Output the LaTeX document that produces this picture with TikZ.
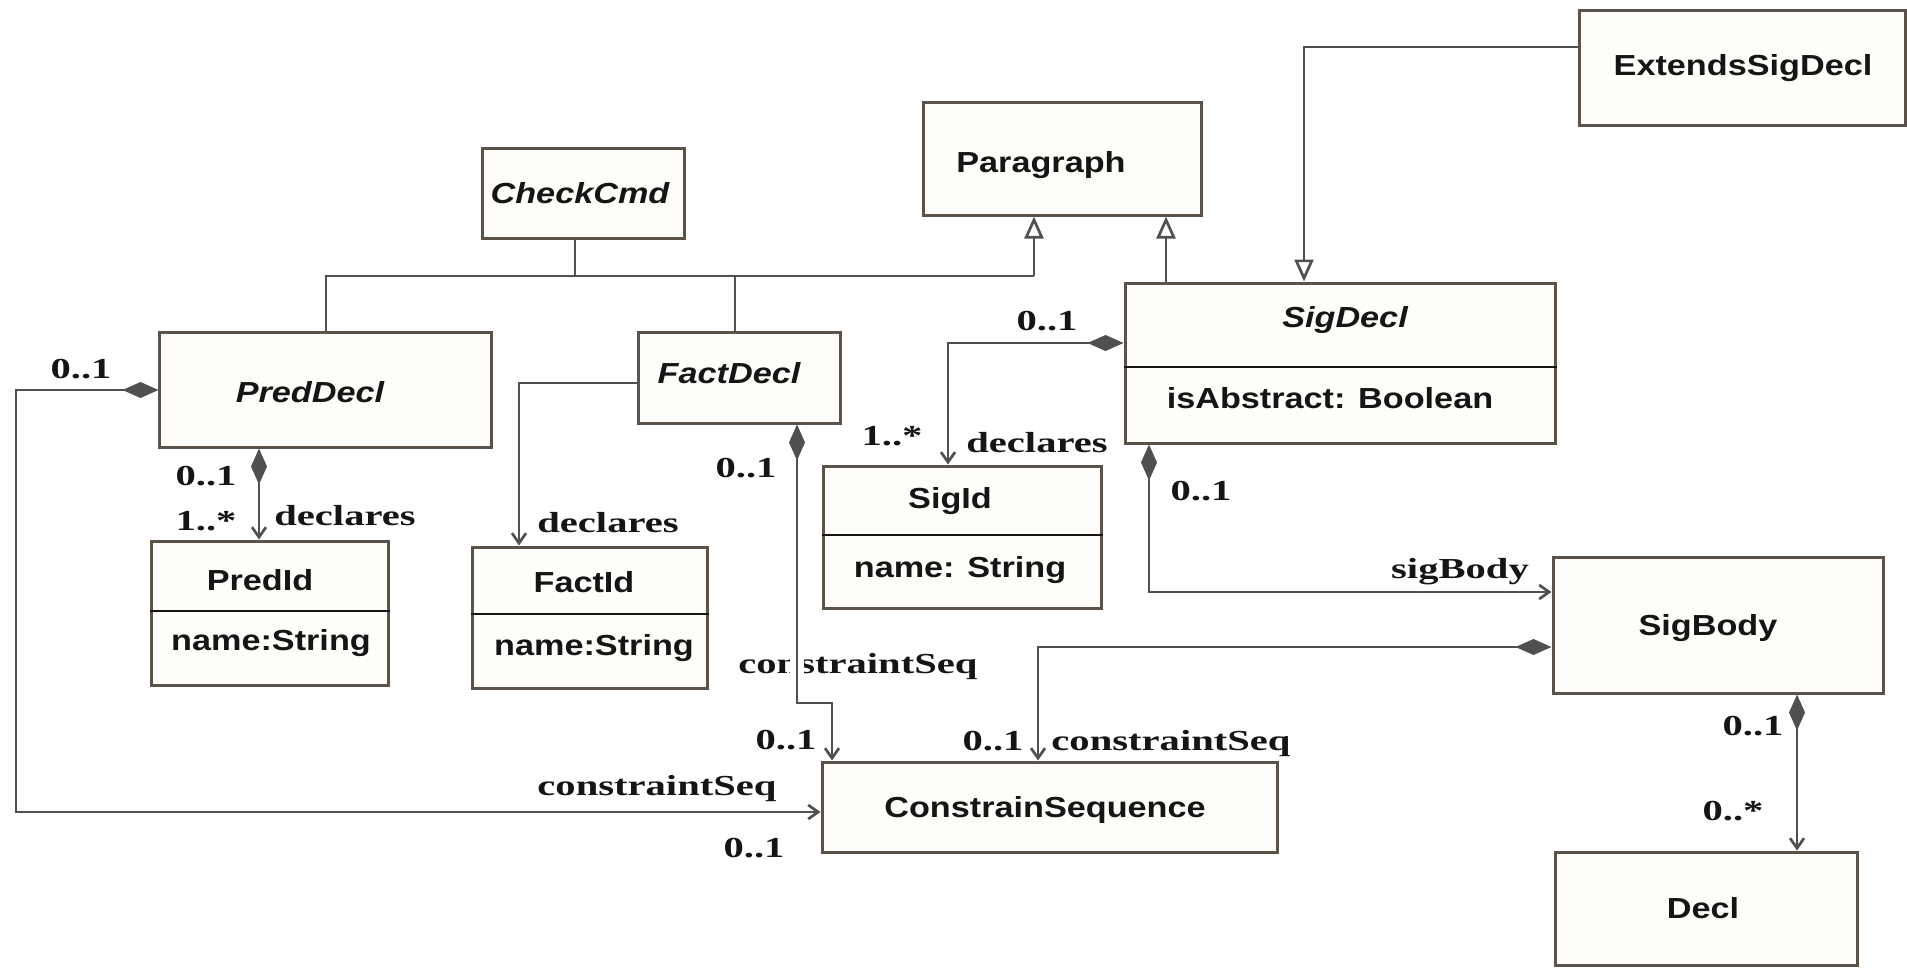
\documentclass[tikz,border=0pt]{standalone}
\usepackage{fontspec}
\setmainfont{Liberation Serif}
\newfontfamily\classfont[FakeStretch=1.18]{Liberation Sans}
\newfontfamily\rolefont[FakeStretch=1.4]{Liberation Serif}
\usetikzlibrary{arrows.meta}
\definecolor{boxline}{HTML}{5B5249}
\definecolor{wirecol}{HTML}{505050}
\definecolor{ink}{HTML}{151515}
\definecolor{paper}{HTML}{FFFDF9}

\begin{document}
\begin{tikzpicture}[x=0.5bp, y=-0.5bp,
  classbox/.style={draw=boxline, line width=1.5bp, fill=paper, inner sep=0pt, rectangle},
  divider/.style={draw=ink, line width=1bp},
  cname/.style={inner sep=0pt, anchor=base, yshift=-5bp, text=ink,
    font={\classfont\fontsize{14.5bp}{17bp}\selectfont\bfseries}},
  cabs/.style={cname, font={\classfont\fontsize{14.5bp}{17bp}\selectfont\bfseries\itshape}},
  role/.style={inner sep=0pt, anchor=base, yshift=-5bp, text=ink,
    font={\rolefont\fontsize{14.5bp}{17bp}\selectfont\bfseries}},
  wire/.style={draw=wirecol, line width=1.35bp, line join=miter},
  comp/.style={wire, {Diamond[length=18bp,width=8bp]}-{Straight Barb[length=5bp,width=7bp]}},
  assoc/.style={wire, -{Straight Barb[length=5bp,width=7bp]}},
  gen/.style={wire, -{Triangle[length=11bp,width=9.5bp,fill=white]}}]

\useasboundingbox (0,0) rectangle (1907,967);

% ---------- class boxes ----------
\node[classbox, minimum width=101bp,   minimum height=45bp]   (checkcmd)  at (583,193)    {};
\node[classbox, minimum width=139bp,   minimum height=56.5bp] (paragraph) at (1062,158.5) {};
\node[classbox, minimum width=163bp,   minimum height=57.5bp] (extends)   at (1742,67.5)  {};
\node[classbox, minimum width=165.5bp, minimum height=57.5bp] (preddecl)  at (325.5,389.5) {};
\node[classbox, minimum width=101bp,   minimum height=45.5bp] (factdecl)  at (739,377.5)  {};
\node[classbox, minimum width=215bp,   minimum height=80bp]   (sigdecl)   at (1340,363)   {};
\node[classbox, minimum width=139bp,   minimum height=71bp]   (sigid)     at (962,537)    {};
\node[classbox, minimum width=118bp,   minimum height=72bp]   (predid)    at (270,613)    {};
\node[classbox, minimum width=117.5bp, minimum height=70.5bp] (factid)    at (589.5,617.5) {};
\node[classbox, minimum width=165bp,   minimum height=68bp]   (sigbody)   at (1718,625)   {};
\node[classbox, minimum width=227.5bp, minimum height=45bp]   (constrain) at (1049.5,807) {};
\node[classbox, minimum width=151bp,   minimum height=56.5bp] (decl)      at (1706,908.5) {};

% compartment dividers
\coordinate (sigdecl-cut) at (0,367);
\coordinate (sigid-cut)   at (0,535);
\coordinate (predid-cut)  at (0,611);
\coordinate (factid-cut)  at (0,614);
\draw[divider] (sigdecl.west |- sigdecl-cut) -- (sigdecl.east |- sigdecl-cut);
\draw[divider] (sigid.west |- sigid-cut) -- (sigid.east |- sigid-cut);
\draw[divider] (predid.west |- predid-cut) -- (predid.east |- predid-cut);
\draw[divider] (factid.west |- factid-cut) -- (factid.east |- factid-cut);

% class names and attributes
\node[cabs]  (checkcmd-t)  at (580,193)  {CheckCmd};
\node[cname] (paragraph-t) at (1041,162) {Paragraph};
\node[cname] (extends-t)   at (1743,65)  {ExtendsSigDecl};
\node[cabs]  (preddecl-t)  at (310,392)  {PredDecl};
\node[cabs]  (factdecl-t)  at (729,373)  {FactDecl};
\node[cabs]  (sigdecl-t)   at (1345,317) {SigDecl};
\node[cname] (sigdecl-a)   at (1330,398) {isAbstract: Boolean};
\node[cname] (sigid-t)     at (950,498)  {SigId};
\node[cname] (sigid-a)     at (960,567)  {name: String};
\node[cname] (predid-t)    at (260,580)  {PredId};
\node[cname] (predid-a)    at (271,640)  {name:String};
\node[cname] (factid-t)    at (584,582)  {FactId};
\node[cname] (factid-a)    at (594,645)  {name:String};
\node[cname] (sigbody-t)   at (1708,625) {SigBody};
\node[cname] (constrain-t) at (1045,807) {ConstrainSequence};
\node[cname] (decl-t)      at (1703,908) {Decl};

% ---------- role names and multiplicities ----------
\node[role] (pl-m1)  at (81,368)   {0..1};
\node[role] (pb-m1)  at (206,475)  {0..1};
\node[role] (pb-m2)  at (206,520)  {1..*};
\node[role] (pb-r)   at (345,515)  {declares};
\node[role] (fl-r)   at (608,522)  {declares};
\node[role] (fb-m1)  at (746,467)  {0..1};
\node[role, anchor=base west] (fb-r) at (738,663) {constraintSeq};
\node[role] (fb-m2)  at (786,739)  {0..1};
\node[role] (pl-r)   at (657,785)  {constraintSeq};
\node[role] (pl-m2)  at (754,847)  {0..1};
\node[role] (sl-m1)  at (1047,320) {0..1};
\node[role] (sl-m2)  at (892,435)  {1..*};
\node[role] (sl-r)   at (1037,442) {declares};
\node[role] (sb-m1)  at (1201,490) {0..1};
\node[role] (sb-r)   at (1460,568) {sigBody};
\node[role] (bl-m1)  at (993,740)  {0..1};
\node[role] (bl-r)   at (1171,740) {constraintSeq};
\node[role] (bb-m1)  at (1753,725) {0..1};
\node[role] (bb-m2)  at (1733,810) {0..*};

% ---------- bend points ----------
\coordinate (jc)   at (575,276);
\coordinate (jpd)  at (326,276);
\coordinate (jfd)  at (735,276);
\coordinate (jpar) at (1034,276);
\coordinate (gx)   at (1166,250);
\coordinate (ex)   at (1304,47);
\coordinate (pl)   at (16,390);
\coordinate (pl2)  at (16,812);
\coordinate (pb)   at (259,500);
\coordinate (fl)   at (519,383);
\coordinate (fb1)  at (797,703);
\coordinate (fb2)  at (832,703);
\coordinate (sl)   at (948,343);
\coordinate (sb)   at (1149,592);
\coordinate (bl)   at (1038,647);
\coordinate (bb)   at (1797,780);

% gap in the role name where the connector crosses it
\draw[white, line width=7bp] (fb-r.north -| fb1) -- (fb-r.south -| fb1);

% ---------- generalizations ----------
\draw[wire] (checkcmd.south -| jc) -- (jc);
\draw[wire] (preddecl.north -| jpd) -- (jpd) -- (jpar);
\draw[wire] (jfd) -- (factdecl.north -| jfd);
\draw[gen]  (jpar) -- (paragraph.south -| jpar);
\draw[gen]  (sigdecl.north -| gx) -- (paragraph.south -| gx);
\draw[gen]  (extends.west |- ex) -- (ex) -- (sigdecl.north -| ex);

% ---------- compositions and associations ----------
\draw[comp]  (preddecl.west |- pl) -- (pl) -- (pl2) -- (constrain.west |- pl2);
\draw[comp]  (preddecl.south -| pb) -- (predid.north -| pb);
\draw[assoc] (factdecl.west |- fl) -- (fl) -- (factid.north -| fl);
\draw[comp]  (factdecl.south -| fb1) -- (fb1) -- (fb2) -- (constrain.north -| fb2);
\draw[comp]  (sigdecl.west |- sl) -- (sl) -- (sigid.north -| sl);
\draw[comp]  (sigdecl.south -| sb) -- (sb) -- (sigbody.west |- sb);
\draw[comp]  (sigbody.west |- bl) -- (bl) -- (constrain.north -| bl);
\draw[comp]  (sigbody.south -| bb) -- (decl.north -| bb);

\end{tikzpicture}
\end{document}
